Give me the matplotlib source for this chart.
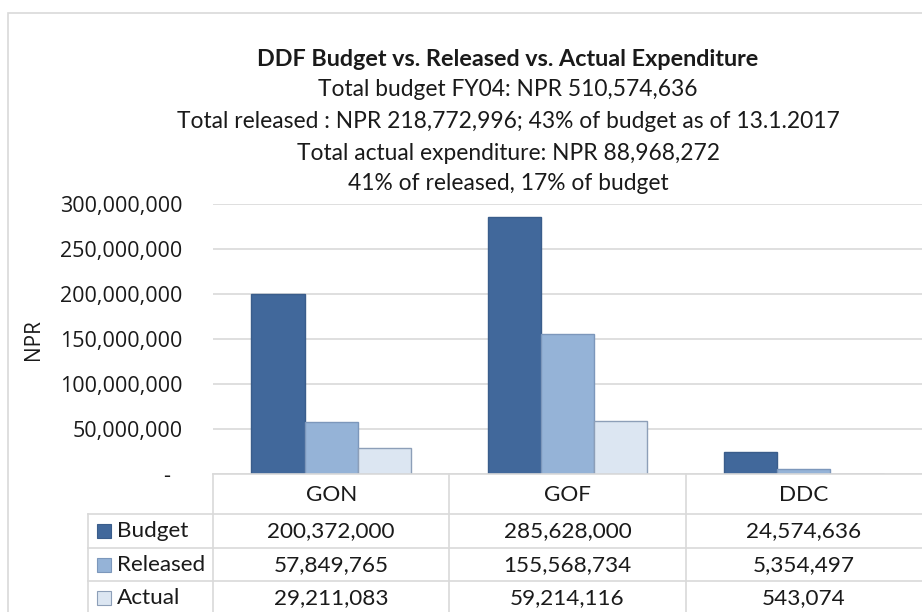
"""
DDF budget vs. released vs. actual expenditure, clustered bars with a data table underneath.
"""

import matplotlib
matplotlib.use("Agg")
import matplotlib.pyplot as plt
from matplotlib.patches import Rectangle
from matplotlib.lines import Line2D
from matplotlib.transforms import blended_transform_factory

categories = ["GON", "GOF", "DDC"]
series_names = ["Budget", "Released", "Actual"]
budget = [200372000, 285628000, 24574636]
released = [57849765, 155568734, 5354497]
actual = [29211083, 59214116, 543074]

y_ticks = [0, 50000000, 100000000, 150000000, 200000000, 250000000, 300000000]
y_tick_labels = ["-  ", "50,000,000", "100,000,000", "150,000,000",
                 "200,000,000", "250,000,000", "300,000,000"]

title_lines = [
    "DDF Budget vs. Released vs. Actual Expenditure",
    "Total budget FY04: NPR 510,574,636",
    "Total released : NPR 218,772,996; 43% of budget as of 13.1.2017",
    "Total actual expenditure: NPR 88,968,272",
    "41% of released, 17% of budget",
]

FACE = ["#41689b", "#95b3d7", "#dce6f2"]
EDGE = ["#3a5d8b", "#7c97bb", "#8d9fb8"]
GRID = "#d9d9d9"
TEXT = "#1a1a1a"

W, H = 922, 612
plt.rcParams["font.family"] = ["Lato", "DejaVu Sans"]


def fy(py):
    # pixel row (from top) -> figure fraction
    return 1 - py / H


def fx(px):
    return px / W


fig = plt.figure(figsize=(W / 100, H / 100), dpi=100)

# outer chart frame
fig.patches.append(Rectangle((fx(8), fy(640)), fx(940) - fx(8), fy(13) - fy(640),
                             transform=fig.transFigure, fill=False,
                             edgecolor=GRID, linewidth=1.2))

ax = fig.add_axes([fx(213), fy(474), fx(922) - fx(213), fy(204) - fy(474)])

series = [budget, released, actual]
bar_w = 0.225
xs = range(len(categories))
for i, vals in enumerate(series):
    ax.bar([x + (i - 1) * bar_w for x in xs], vals, width=bar_w,
           color=FACE[i], edgecolor=EDGE[i], linewidth=1, zorder=3)

ax.set_xlim(-0.5, len(categories) - 0.5)
ax.set_ylim(0, 300000000)
ax.set_yticks(y_ticks)
ax.set_yticklabels(y_tick_labels, family="Open Sans", fontsize=15.5, color=TEXT)
ax.tick_params(axis="y", length=0, pad=22)
ax.set_xticks([])
ax.grid(axis="y", color=GRID, linewidth=1.2, zorder=0)
for s in ax.spines.values():
    s.set_visible(False)

fig.text(fx(33), fy(340), "NPR", rotation=90, ha="center", va="center",
         family="Open Sans", fontsize=15, color=TEXT)

# stacked title block
title_y = [60, 90, 121, 153, 184]
for k, (line, py) in enumerate(zip(title_lines, title_y)):
    fig.text(fx(508), fy(py), line, ha="center", va="center",
             fontsize=16.8 if k == 0 else 16.4,
             fontweight="bold" if k == 0 else "normal", color=TEXT)

# data table under the plot
tr = blended_transform_factory(ax.transData, fig.transFigure)
row_edges = [474, 514, 548, 581, 620]
row_mid = [495, 531, 565, 598]


def hline(x0, x1, py, transform):
    fig.lines.append(Line2D([x0, x1], [fy(py), fy(py)], transform=transform,
                            color=GRID, linewidth=1.2))


def vline(x, py0, py1, transform):
    fig.lines.append(Line2D([x, x], [fy(py0), fy(py1)], transform=transform,
                            color=GRID, linewidth=1.2))


for py in row_edges[1:-1]:
    hline(fx(88), 1.0, py, fig.transFigure)
hline(-0.5, 2.6, row_edges[0], tr)
for b in [-0.5, 0.5, 1.5]:
    vline(b, row_edges[0], row_edges[-1], tr)
vline(fx(88), row_edges[1], row_edges[-1], fig.transFigure)

for x, cat in zip(xs, categories):
    fig.text(x, fy(row_mid[0]), cat, transform=tr, ha="center", va="center",
             fontsize=16.2, color=TEXT)

for i, (name, vals) in enumerate(zip(series_names, series)):
    py = row_mid[i + 1]
    fig.patches.append(Rectangle((fx(97), fy(py + 7)), fx(14), fy(0) - fy(14),
                                 transform=fig.transFigure, facecolor=FACE[i],
                                 edgecolor=EDGE[i], linewidth=0.8))
    fig.text(fx(117), fy(py), name, ha="left", va="center",
             fontsize=16.2, color=TEXT)
    for x, v in zip(xs, vals):
        fig.text(x, fy(py), f"{v:,}", transform=tr, ha="center", va="center",
                 fontsize=16.2, color=TEXT)

fig.savefig("out.png", dpi=100, facecolor="white")
